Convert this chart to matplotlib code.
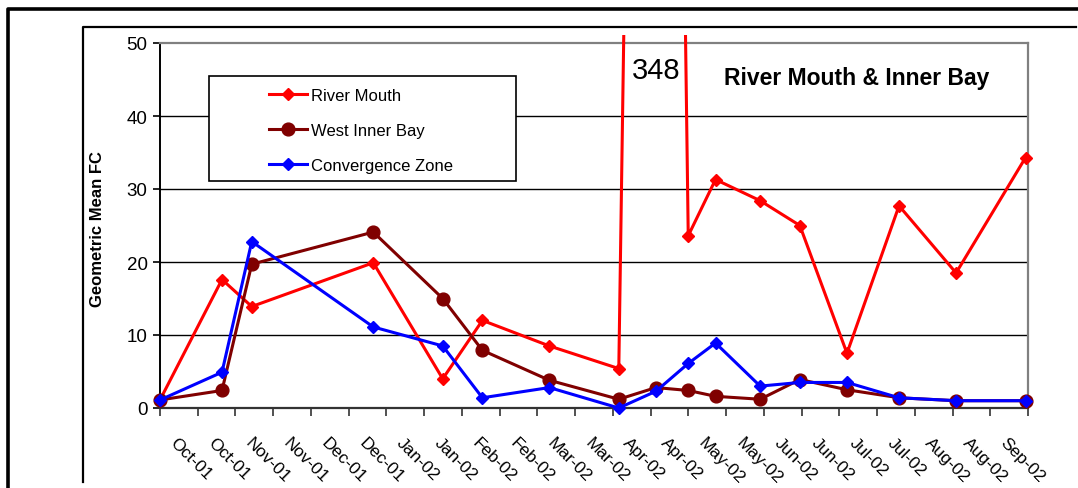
import numpy as np
import matplotlib
matplotlib.use("Agg")
import matplotlib.pyplot as plt
import matplotlib.dates as mdates
from matplotlib.lines import Line2D
from matplotlib.patches import Rectangle
from matplotlib.transforms import ScaledTranslation
import pandas as pd

plt.rcParams["font.family"] = ["Liberation Sans", "DejaVu Sans"]

# Sampling dates and geometric mean fecal coliform per station
sample_dates = ["2001-10-05", "2001-10-30", "2001-11-11", "2001-12-30", "2002-01-27",
                "2002-02-12", "2002-03-11", "2002-04-08", "2002-04-23", "2002-05-06",
                "2002-05-17", "2002-06-04", "2002-06-20", "2002-07-09", "2002-07-30",
                "2002-08-22", "2002-09-19"]
river_mouth = [1.1, 17.6, 13.9, 19.9, 4.0, 12.0, 8.5, 5.4, 348, 23.6,
               31.3, 28.4, 25.0, 7.5, 27.7, 18.5, 34.3]
west_inner_bay = [1.1, 2.4, 19.7, 24.1, 15.0, 7.9, 3.8, 1.2, 2.8, 2.4,
                  1.6, 1.2, 3.9, 2.5, 1.4, 1.0, 1.0]
convergence_zone = [1.1, 4.9, 22.8, 11.1, 8.5, 1.4, 2.8, 0.0, 2.3, 6.1,
                    8.9, 3.0, 3.5, 3.5, 1.4, 1.0, 1.0]

series_names = ["River Mouth", "West Inner Bay", "Convergence Zone"]
tick_labels = ["Oct-01", "Oct-01", "Nov-01", "Nov-01", "Dec-01", "Dec-01",
               "Jan-02", "Jan-02", "Feb-02", "Feb-02", "Mar-02", "Mar-02",
               "Apr-02", "Apr-02", "May-02", "May-02", "Jun-02", "Jun-02",
               "Jul-02", "Jul-02", "Aug-02", "Aug-02", "Sep-02"]
axis_start, axis_end = "2001-10-05", "2002-09-20"
chart_title = "River Mouth & Inner Bay"
y_label = "Geometric Mean FC"

W, H = 1078, 489
fig = plt.figure(figsize=(W / 100, H / 100), dpi=100)
fig.patch.set_facecolor("white")


def fx(px):
    return px / W


def fy(py):
    return 1 - py / H


# page / chart frames
fig.add_artist(Line2D([fx(8), fx(8), fx(1080)], [fy(492), fy(10), fy(10)],
                      color="black", lw=2.6, solid_capstyle="projecting"))
fig.add_artist(Line2D([fx(83), fx(83), fx(1076)], [fy(483), fy(28), fy(28)],
                      color="black", lw=1.6, solid_capstyle="projecting"))

ax = fig.add_axes([fx(160), fy(409), fx(1028) - fx(160), fy(44) - fy(409)])

x = mdates.date2num(pd.to_datetime(sample_dates))
x0 = mdates.date2num(pd.Timestamp(axis_start))
x1 = mdates.date2num(pd.Timestamp(axis_end))

# gridlines
for v in [10, 20, 30, 40]:
    ax.axhline(v, color="black", lw=1.0, zorder=1)

clip = Rectangle((-0.05, -0.1), 1.1, 1.122, transform=ax.transAxes, visible=False)
ax.add_patch(clip)

styles = [
    dict(color="#FF0000", marker="D", ms=6.4, lw=2.2),
    dict(color="#800000", marker="o", ms=9.2, lw=2.2),
    dict(color="#0000FF", marker="D", ms=6.4, lw=2.2),
]
handles = []
for vals, name, st in zip([river_mouth, west_inner_bay, convergence_zone], series_names, styles):
    ln, = ax.plot(x, vals, color=st["color"], lw=st["lw"], marker=st["marker"],
                  ms=st["ms"], mfc=st["color"], mec=st["color"], label=name, zorder=3)
    ln.set_clip_path(clip)
    handles.append(ln)

ax.set_xlim(x0, x1)
ax.set_ylim(0, 50)
ax.set_yticks([0, 10, 20, 30, 40, 50])
ax.tick_params(axis="y", direction="out", length=5, width=1.2, labelsize=13.5, pad=4, colors="black")

ticks = np.linspace(x0, x1, len(tick_labels) + 1)
ax.set_xticks(ticks)
ax.set_xticklabels(tick_labels + [""], rotation=-45, ha="left", va="top",
                   rotation_mode="anchor", fontsize=12.5)
ax.tick_params(axis="x", direction="out", length=6, width=1.2, colors="#333333", pad=13)
off = ScaledTranslation(18 / 100, 0, fig.dpi_scale_trans)
for lab in ax.get_xticklabels():
    lab.set_transform(lab.get_transform() + off)
    lab.set_color("black")

for side in ["top", "right"]:
    ax.spines[side].set_color("#808080")
    ax.spines[side].set_linewidth(1.6)
ax.spines["left"].set_color("black")
ax.spines["left"].set_linewidth(1.4)
ax.spines["bottom"].set_color("#333333")
ax.spines["bottom"].set_linewidth(1.6)

ax.set_ylabel(y_label, fontsize=12, fontweight="bold")
ax.yaxis.label.set_va("center")
ax.yaxis.set_label_coords((98 - 160) / (1028 - 160), (409 - 229) / 365)

# off-scale peak annotation
peak = int(np.argmax(river_mouth))
fig.text(fx(656), fy(71), f"{river_mouth[peak]:.0f}", fontsize=21, ha="center", va="center")
fig.text(fx(857), fy(78), chart_title, fontsize=16.5, fontweight="bold", ha="center", va="center")

# legend box
fig.add_artist(Rectangle((fx(209), fy(182)), fx(516) - fx(209), fy(77) - fy(182),
                         transform=fig.transFigure, fill=True, facecolor="white",
                         edgecolor="black", lw=1.2, zorder=4))
leg = fig.legend(handles=handles, loc="center", bbox_to_anchor=(fx(361), fy(131.5)),
                 frameon=False, fontsize=12, handlelength=2.3, handletextpad=0.25,
                 labelspacing=1.2, borderpad=0)
leg.set_zorder(5)

fig.savefig("out.png", dpi=100, facecolor="white")
